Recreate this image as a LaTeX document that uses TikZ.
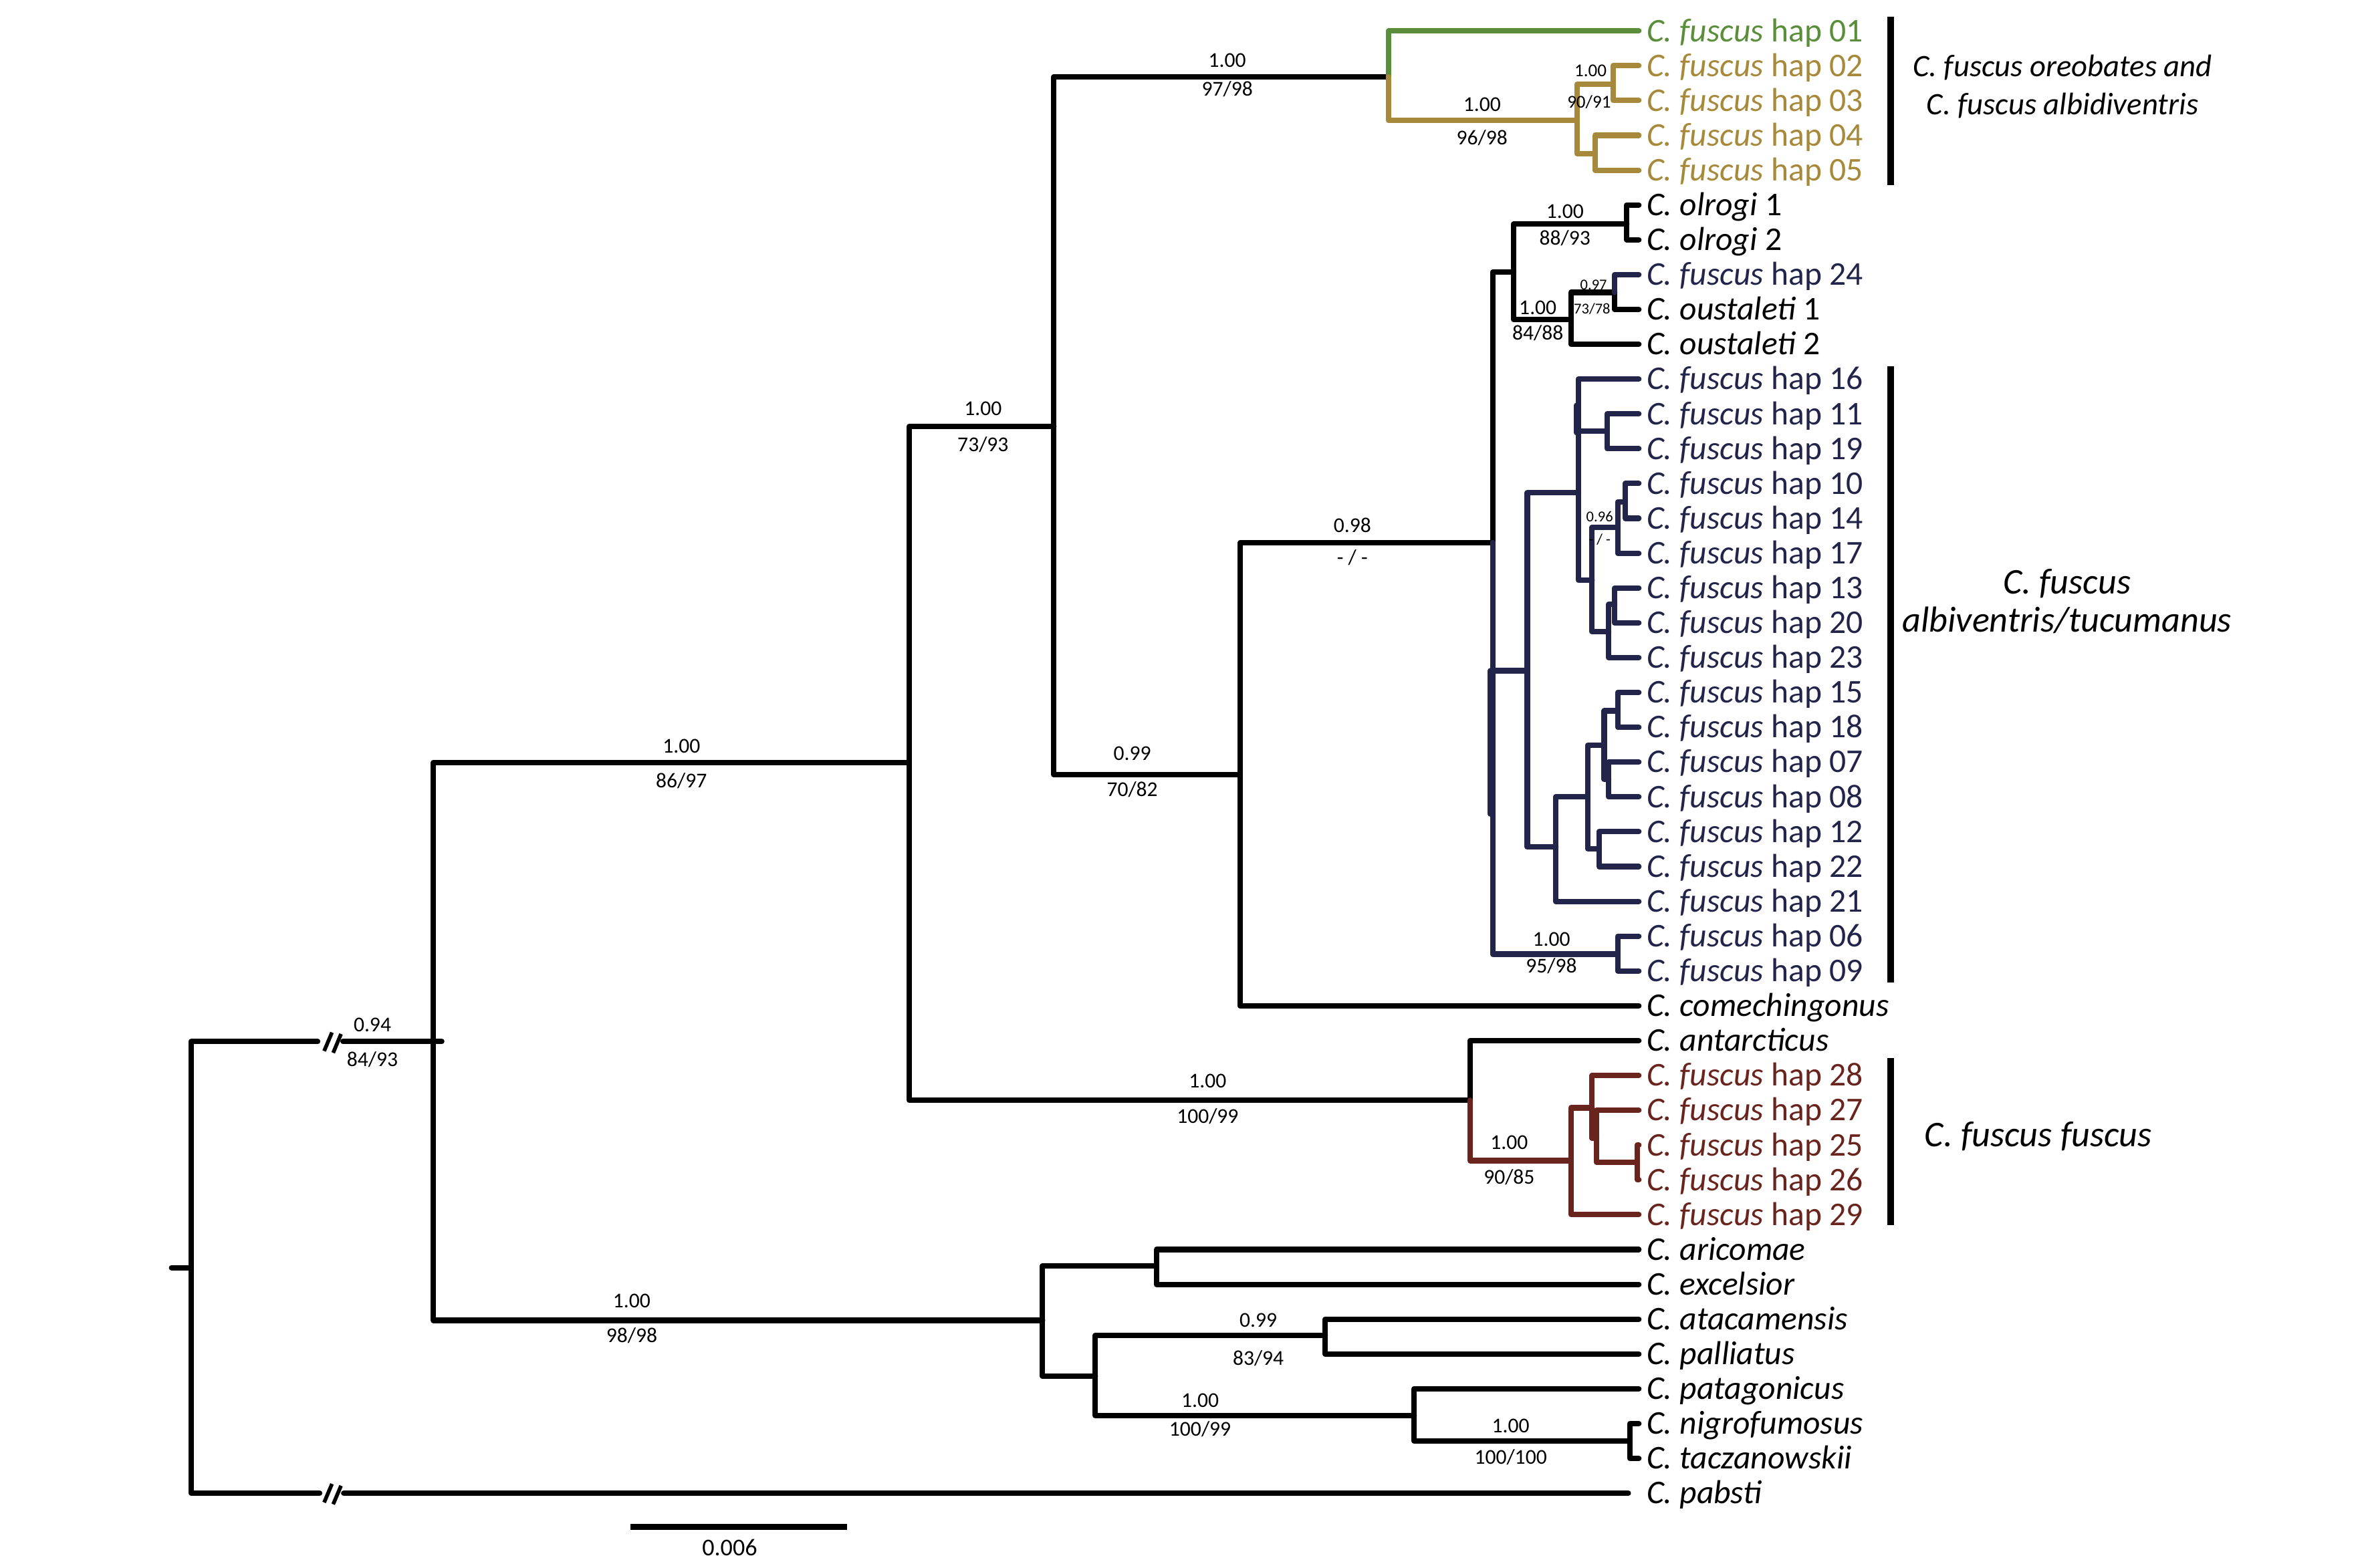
\documentclass[tikz,border=0pt]{standalone}
\usepackage{fontspec}
\setmainfont{Carlito}
\definecolor{cgreen}{HTML}{5B8E3B}
\definecolor{cgold}{HTML}{A6893A}
\definecolor{cnavy}{HTML}{23244A}
\definecolor{cbrown}{HTML}{68241D}
\begin{document}
\begin{tikzpicture}[x=1pt,y=-1pt,
  br/.style={line width=3.6pt, line cap=round, line join=round},
  leaf/.style={anchor=west, inner xsep=5pt, inner ysep=0pt, text height=16pt, text depth=2pt, font=\fontsize{22}{26}\selectfont},
  sup/.style={inner sep=0pt, text height=9pt, text depth=0pt, font=\fontsize{14}{16}\selectfont},
  supm/.style={inner sep=0pt, text height=7.6pt, text depth=0pt, font=\fontsize{12}{14}\selectfont},
  sups/.style={inner sep=0pt, text height=6.3pt, text depth=0pt, font=\fontsize{10}{12}\selectfont},
  clade/.style={font=\fontsize{24}{25}\selectfont\itshape, align=center, inner sep=0pt},
  cbar/.style={line width=4.2pt},
  brk/.style={line width=2.5pt}
]
\useasboundingbox (0,0) rectangle (1568,1040.3);

% ---------- leaves ----------
\node[leaf, text=cgreen] (t1) at (1087,20.5) {\textit{C. fuscus} hap 01};
\node[leaf, text=cgold] (t2) at (1087,43.6) {\textit{C. fuscus} hap 02};
\node[leaf, text=cgold] (t3) at (1087,66.7) {\textit{C. fuscus} hap 03};
\node[leaf, text=cgold] (t4) at (1087,89.8) {\textit{C. fuscus} hap 04};
\node[leaf, text=cgold] (t5) at (1087,112.9) {\textit{C. fuscus} hap 05};
\node[leaf] (t6) at (1087,136.0) {\textit{C. olrogi} 1};
\node[leaf] (t7) at (1087,159.1) {\textit{C. olrogi} 2};
\node[leaf, text=cnavy] (t8) at (1087,182.2) {\textit{C. fuscus} hap 24};
\node[leaf] (t9) at (1087,205.3) {\textit{C. oustaleti} 1};
\node[leaf] (t10) at (1087,228.4) {\textit{C. oustaleti} 2};
\node[leaf, text=cnavy] (t11) at (1087,251.5) {\textit{C. fuscus} hap 16};
\node[leaf, text=cnavy] (t12) at (1087,274.6) {\textit{C. fuscus} hap 11};
\node[leaf, text=cnavy] (t13) at (1087,297.7) {\textit{C. fuscus} hap 19};
\node[leaf, text=cnavy] (t14) at (1087,320.8) {\textit{C. fuscus} hap 10};
\node[leaf, text=cnavy] (t15) at (1087,343.9) {\textit{C. fuscus} hap 14};
\node[leaf, text=cnavy] (t16) at (1087,367.0) {\textit{C. fuscus} hap 17};
\node[leaf, text=cnavy] (t17) at (1087,390.1) {\textit{C. fuscus} hap 13};
\node[leaf, text=cnavy] (t18) at (1087,413.2) {\textit{C. fuscus} hap 20};
\node[leaf, text=cnavy] (t19) at (1087,436.3) {\textit{C. fuscus} hap 23};
\node[leaf, text=cnavy] (t20) at (1087,459.4) {\textit{C. fuscus} hap 15};
\node[leaf, text=cnavy] (t21) at (1087,482.5) {\textit{C. fuscus} hap 18};
\node[leaf, text=cnavy] (t22) at (1087,505.6) {\textit{C. fuscus} hap 07};
\node[leaf, text=cnavy] (t23) at (1087,528.7) {\textit{C. fuscus} hap 08};
\node[leaf, text=cnavy] (t24) at (1087,551.8) {\textit{C. fuscus} hap 12};
\node[leaf, text=cnavy] (t25) at (1087,574.9) {\textit{C. fuscus} hap 22};
\node[leaf, text=cnavy] (t26) at (1087,598.0) {\textit{C. fuscus} hap 21};
\node[leaf, text=cnavy] (t27) at (1087,621.1) {\textit{C. fuscus} hap 06};
\node[leaf, text=cnavy] (t28) at (1087,644.2) {\textit{C. fuscus} hap 09};
\node[leaf] (t29) at (1087,667.3) {\textit{C. comechingonus}};
\node[leaf] (t30) at (1087,690.4) {\textit{C. antarcticus}};
\node[leaf, text=cbrown] (t31) at (1087,713.5) {\textit{C. fuscus} hap 28};
\node[leaf, text=cbrown] (t32) at (1087,736.6) {\textit{C. fuscus} hap 27};
\node[leaf, text=cbrown] (t33) at (1087,759.7) {\textit{C. fuscus} hap 25};
\node[leaf, text=cbrown] (t34) at (1087,782.8) {\textit{C. fuscus} hap 26};
\node[leaf, text=cbrown] (t35) at (1087,805.9) {\textit{C. fuscus} hap 29};
\node[leaf] (t36) at (1087,829.0) {\textit{C. aricomae}};
\node[leaf] (t37) at (1087,852.1) {\textit{C. excelsior}};
\node[leaf] (t38) at (1087,875.2) {\textit{C. atacamensis}};
\node[leaf] (t39) at (1087,898.3) {\textit{C. palliatus}};
\node[leaf] (t40) at (1087,921.4) {\textit{C. patagonicus}};
\node[leaf] (t41) at (1087,944.5) {\textit{C. nigrofumosus}};
\node[leaf] (t42) at (1087,967.6) {\textit{C. taczanowskii}};
\node[leaf] (t43) at (1087,990.7) {\textit{C. pabsti}};

% ---------- internal nodes ----------
\coordinate (rs) at (113.8,841);
\coordinate (R0) at (126.7,841);
\coordinate (bA1) at (210.7,691);
\coordinate (bA2) at (227.5,691);
\coordinate (A) at (287.5,691);
\coordinate (As) at (293,691);
\coordinate (bP1) at (212,990.7);
\coordinate (bP2) at (228,990.7);
\coordinate (B) at (603,506);
\coordinate (Z) at (691.5,876);
\coordinate (C) at (699,283);
\coordinate (F) at (975,730);
\coordinate (D) at (921,51);
\coordinate (E) at (822.5,514);
\coordinate (Gd) at (1046,80);
\coordinate (G23) at (1070,56);
\coordinate (G45) at (1058,102);
\coordinate (E2) at (990,360);
\coordinate (E2a) at (988.5,445);
\coordinate (E2b) at (988.5,540);
\coordinate (OO) at (1004,180.5);
\coordinate (Ol) at (1079,148.6);
\coordinate (Ou) at (1042,212);
\coordinate (H24) at (1071,194);
\coordinate (K) at (1013,445);
\coordinate (L) at (1047,327);
\coordinate (La) at (1045.5,269);
\coordinate (Lb) at (1045.5,287);
\coordinate (L19) at (1066,286);
\coordinate (M) at (1056,385);
\coordinate (N) at (1073,350);
\coordinate (N2) at (1078,333);
\coordinate (O) at (1067,419);
\coordinate (P) at (1071,401);
\coordinate (Q) at (1032,562);
\coordinate (R) at (1053,528.5);
\coordinate (S) at (1064,494.5);
\coordinate (U) at (1073,471.6);
\coordinate (T) at (1067,517);
\coordinate (V) at (1060.6,563);
\coordinate (Q6) at (1073,633);
\coordinate (G) at (1042,770);
\coordinate (H) at (1056,735);
\coordinate (I) at (1059,755);
\coordinate (J) at (1086,771);
\coordinate (AE) at (767,840);
\coordinate (Y) at (726.5,913);
\coordinate (AP) at (879,886);
\coordinate (PG) at (938,939);
\coordinate (NT) at (1081,956);

% ---------- black backbone ----------
\draw[br] (rs) -- (R0);
\draw[br] (R0) |- (bA1);
\draw[br] (bA2) -- (As);
\draw[br] (R0) |- (bP1);
\draw[br] (bP2) -- ([xshift=-7pt]t43.west);
\draw[brk] (215,697.3) -- (220.2,685);
\draw[brk] (221,698.5) -- (226.2,686);
\draw[brk] (215,996.8) -- (220.2,984.5);
\draw[brk] (221,998) -- (226.2,985.7);

\draw[br] (A) |- (B);
\draw[br] (A) |- (Z);
\draw[br] (B) |- (C);
\draw[br] (B) |- (F);
\draw[br] (C) |- (D);
\draw[br] (C) |- (E);
\draw[br] (E) |- (E2);
\draw[br] (E) |- (t29.west);
\draw[br] (E2) |- (OO);
\draw[br] (OO) |- (Ol);
\draw[br] (Ol) |- (t6.west);
\draw[br] (Ol) |- (t7.west);
\draw[br] (OO) |- (Ou);
\draw[br] (Ou) |- (H24);
\draw[br] (Ou) |- (t10.west);
\draw[br] (H24) |- (t9.west);
\draw[br] (F) |- (t30.west);
\draw[br] (Z) |- (AE);
\draw[br] (AE) |- (t36.west);
\draw[br] (AE) |- (t37.west);
\draw[br] (Z) |- (Y);
\draw[br] (Y) |- (AP);
\draw[br] (AP) |- (t38.west);
\draw[br] (AP) |- (t39.west);
\draw[br] (Y) |- (PG);
\draw[br] (PG) |- (t40.west);
\draw[br] (PG) |- (NT);
\draw[br] (NT) |- (t41.west);
\draw[br] (NT) |- (t42.west);

% ---------- green / gold ----------
\draw[br, cgreen] (D) |- (t1.west);
\draw[br, cgold] (D) |- (Gd);
\draw[br, cgold] (Gd) |- (G23);
\draw[br, cgold] (Gd) |- (G45);
\draw[br, cgold] (G23) |- (t2.west);
\draw[br, cgold] (G23) |- (t3.west);
\draw[br, cgold] (G45) |- (t4.west);
\draw[br, cgold] (G45) |- (t5.west);

% ---------- navy ----------
\draw[br, cnavy] (H24) |- (t8.west);
\draw[br, cnavy] (E2) |- (K);
\draw[br, cnavy] (E2) |- (Q6);
\draw[br, cnavy] (E2a) -- (E2b);
\draw[br, cnavy] (Q6) |- (t27.west);
\draw[br, cnavy] (Q6) |- (t28.west);
\draw[br, cnavy] (K) |- (L);
\draw[br, cnavy] (K) |- (Q);
\draw[br, cnavy] (L) |- (t11.west);
\draw[br, cnavy] (L) |- (L19);
\draw[br, cnavy] (La) -- (Lb);
\draw[br, cnavy] (L19) |- (t12.west);
\draw[br, cnavy] (L19) |- (t13.west);
\draw[br, cnavy] (L) |- (M);
\draw[br, cnavy] (M) |- (N);
\draw[br, cnavy] (N) |- (N2);
\draw[br, cnavy] (N2) |- (t14.west);
\draw[br, cnavy] (N2) |- (t15.west);
\draw[br, cnavy] (N) |- (t16.west);
\draw[br, cnavy] (M) |- (O);
\draw[br, cnavy] (O) |- (P);
\draw[br, cnavy] (P) |- (t17.west);
\draw[br, cnavy] (P) |- (t18.west);
\draw[br, cnavy] (O) |- (t19.west);
\draw[br, cnavy] (Q) |- (R);
\draw[br, cnavy] (Q) |- (t26.west);
\draw[br, cnavy] (R) |- (S);
\draw[br, cnavy] (R) |- (V);
\draw[br, cnavy] (S) |- (U);
\draw[br, cnavy] (S) |- (T);
\draw[br, cnavy] (U) |- (t20.west);
\draw[br, cnavy] (U) |- (t21.west);
\draw[br, cnavy] (T) |- (t22.west);
\draw[br, cnavy] (T) |- (t23.west);
\draw[br, cnavy] (V) |- (t24.west);
\draw[br, cnavy] (V) |- (t25.west);

% ---------- brown ----------
\draw[br, cbrown] (F) |- (G);
\draw[br, cbrown] (G) |- (H);
\draw[br, cbrown] (G) |- (t35.west);
\draw[br, cbrown] (H) |- (t31.west);
\draw[br, cbrown] (H) |- (I);
\draw[br, cbrown] (I) |- (t32.west);
\draw[br, cbrown] (I) |- (J);
\draw[br, cbrown] (J) |- (t33.west);
\draw[br, cbrown] (J) |- (t34.west);

% ---------- support values ----------
\node[sup] (s1) at (247,680) {0.94};
\node[sup] (s2) at (247,703) {84/93};
\node[sup] (s3) at (452,495) {1.00};
\node[sup] (s4) at (452,518) {86/97};
\node[sup] (s5) at (419,863) {1.00};
\node[sup] (s6) at (419,886) {98/98};
\node[sup] (s7) at (652,271) {1.00};
\node[sup] (s8) at (652,295) {73/93};
\node[sup] (s9) at (801,717) {1.00};
\node[sup] (s10) at (801,740.6) {100/99};
\node[sup] (s11) at (814,40) {1.00};
\node[sup] (s12) at (814,59) {97/98};
\node[sup] (s13) at (751,500) {0.99};
\node[sup] (s14) at (751,524) {70/82};
\node[sup] (s15) at (897,348.5) {0.98};
\node[sup] (s16) at (897,370) {- / -};
\node[sup] (s17) at (983,69.5) {1.00};
\node[sup] (s18) at (983,91.6) {96/98};
\node[supm] (s19) at (1055,47) {1.00};
\node[supm] (s20) at (1054,68) {90/91};
\node[sup] (s21) at (1038,140.5) {1.00};
\node[sup] (s22) at (1038,158) {88/93};
\node[sup] (s23) at (1020,204) {1.00};
\node[sup] (s24) at (1020,221) {84/88};
\node[sups] (s25) at (1057,189) {0.97};
\node[sups] (s26) at (1056,205) {73/78};
\node[sups] (s27) at (1061,343) {0.96};
\node[sups] (s28) at (1061,358) {- / -};
\node[sup] (s29) at (1029,623) {1.00};
\node[sup] (s30) at (1029,641) {95/98};
\node[sup] (s31) at (1001,758) {1.00};
\node[sup] (s32) at (1001,781) {90/85};
\node[sup] (s33) at (834.6,876) {0.99};
\node[sup] (s34) at (834.6,901) {83/94};
\node[sup] (s35) at (796,929) {1.00};
\node[sup] (s36) at (796,948) {100/99};
\node[sup] (s37) at (1002,946) {1.00};
\node[sup] (s38) at (1002,966.7) {100/100};

% ---------- clade bars and names ----------
\draw[cbar] (1254,11) -- (1254,123);
\draw[cbar] (1254,243) -- (1254,652);
\draw[cbar] (1254,702) -- (1254,813);
\node[clade, font=\fontsize{20.7}{25.5}\selectfont\itshape] (c1) at (1368,57.5) {C. fuscus oreobates and\\C. fuscus albidiventris};
\node[clade] (c2) at (1371,399) {C. fuscus\\albiventris/tucumanus};
\node[clade] (c3) at (1352,754) {C. fuscus fuscus};

% ---------- scale bar ----------
\coordinate (sb1) at (418,1013);
\coordinate (sb2) at (562,1013);
\draw[br, line cap=butt] (sb1) -- (sb2);
\node[sup, font=\fontsize{16}{18}\selectfont, text height=10.2pt] (sbl) at (484,1027) {0.006};
\end{tikzpicture}
\end{document}
